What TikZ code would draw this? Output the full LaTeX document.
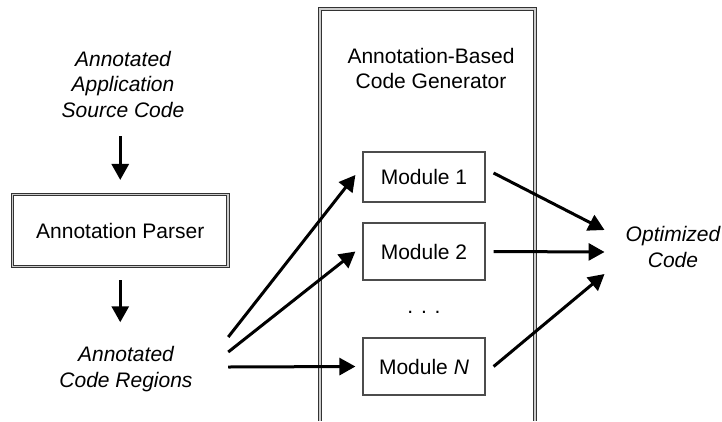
\documentclass[tikz,border=0pt]{standalone}
\usepackage{fontspec}
\setmainfont{Liberation Sans}
\usetikzlibrary{arrows.meta,calc}
\newcommand{\figsize}{\fontsize{21}{25.5}\selectfont}
\tikzset{pin/.style={line width=3pt, -{Triangle[length=16pt,width=17pt]}},
  mod/.style={draw=black!70, line width=1.2pt, minimum width=122pt, minimum height=57pt},
  dbl/.style={draw=black!80, line width=1.1pt, double=black!20, double distance=1.6pt},
  lbl/.style={align=center, inner sep=0pt, font=\figsize\itshape}}

\begin{document}
\begin{tikzpicture}[x=1pt, y=-1pt, font=\figsize]
  \useasboundingbox (0,0) rectangle (722,421);
  % left column
  \node[lbl] (src) at (123,84) {Annotated\\Application\\Source Code};
  \node[dbl, inner sep=0pt, text depth=0pt, minimum width=215.5pt, minimum height=72pt]
    (parser) at (120.25,230.5) {Annotation Parser};
  \node[lbl] (regions) at (126,369) {Annotated\\Code Regions};
  \draw[pin, shorten <=19pt, shorten >=14pt] (parser.north |- src.south) -- (parser.north);
  \draw[pin, shorten <=13pt, shorten >=24pt] (parser.south) -- (parser.south |- regions.north);
  % code generator, open at the bottom
  \draw[dbl] (320,421) -- (320,8.75) -- (535,8.75) -- (535,421);
  \node[align=center, inner sep=0pt] (gen) at (431,68.5) {Annotation-Based\\Code Generator};
  \node[mod, minimum height=50pt] (m1) at (424,177) {Module 1};
  \node[mod] (m2) at (424,251.5) {Module 2};
  \node (dots) at (424,312) {. . .};
  \node[mod] (mN) at (424,366.5) {Module \textit{N}};
  % output
  \node[lbl] (out) at (673,247) {Optimized\\Code};
  % regions to modules
  \draw[pin] ($(regions.east)+(35.5,-32)$) -- ([xshift=-7pt,yshift=2pt]m1.west);
  \draw[pin] ($(regions.east)+(35.5,-17)$) -- ([xshift=-7pt]m2.west);
  \draw[pin] ($(regions.east)+(35.5,-2)$) -- ([xshift=-7pt]mN.west);
  % modules to output
  \draw[pin] ([xshift=8pt,yshift=4pt]m1.east) -- ([xshift=-21pt,yshift=17pt]out.west);
  \draw[pin] ([xshift=8pt]m2.east) -- ([xshift=-21pt,yshift=-5pt]out.west);
  \draw[pin] ([xshift=8pt]mN.east) -- ([xshift=-21pt,yshift=-27pt]out.west);
\end{tikzpicture}
\end{document}
